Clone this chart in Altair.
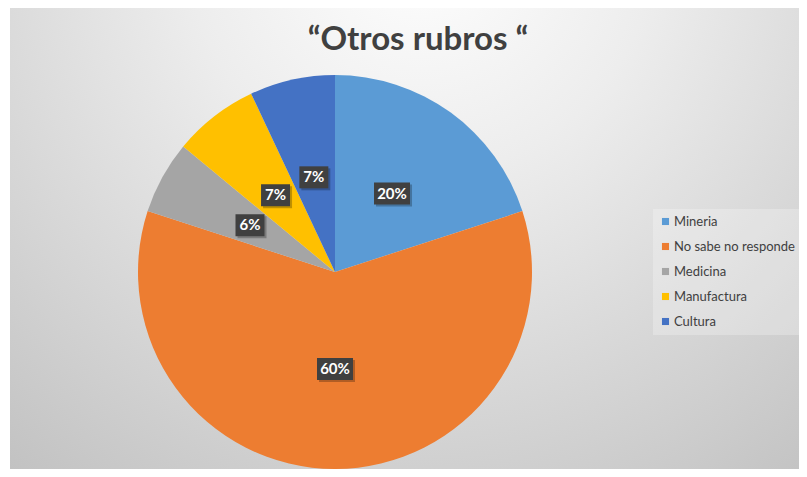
import altair as alt
import pandas as pd

title_text = "\u201cOtros rubros \u201c"
categories = ["Mineria", "No sabe no responde", "Medicina", "Manufactura", "Cultura"]
values = [20, 60, 6, 7, 7]
colors = ["#5B9BD5", "#ED7D31", "#A5A5A5", "#FFC000", "#4472C4"]

W, H = 791, 461
CX, CY = 327, 264
R = 197
LR = 97

df = pd.DataFrame({"category": categories, "value": values, "order": list(range(len(categories)))})

grad = alt.RadialGradient(
    gradient="radial",
    x1=0.52, y1=0.12, r1=0.0,
    x2=0.52, y2=0.12, r2=0.85,
    stops=[alt.GradientStop(offset=0, color="#ffffff"),
           alt.GradientStop(offset=0.35, color="#ededed"),
           alt.GradientStop(offset=1, color="#c2c2c2")],
)

bg = alt.Chart(pd.DataFrame({"k": [0]})).mark_rect(fill=grad).encode(
    x=alt.value(2), x2=alt.value(W), y=alt.value(0), y2=alt.value(H)
)

title = alt.Chart(pd.DataFrame({"t": [title_text]})).mark_text(
    font="Lato", fontSize=33, fontWeight="bold", color="#404040", baseline="middle", align="center"
).encode(text="t:N", x=alt.value(410), y=alt.value(32))

pie = alt.Chart(df).mark_arc(outerRadius=R).encode(
    theta=alt.Theta("value:Q", stack=True),
    color=alt.Color(
        "category:N",
        scale=alt.Scale(domain=categories, range=colors),
        sort=categories,
        legend=alt.Legend(
            title=None, orient="none", legendX=645, legendY=201,
            symbolType="square", symbolSize=50, symbolStrokeWidth=0,
            labelFont="Lato", labelFontSize=13, labelColor="#404040",
            rowPadding=11, padding=6, fillColor="rgba(255,255,255,0.25)",
            labelOffset=2,
        ),
    ),
    order=alt.Order("order:Q"),
    x=alt.value(CX), y=alt.value(CY),
)

base = alt.Chart(df).transform_window(
    cum="sum(value)", sort=[alt.SortField("order")]
).transform_joinaggregate(total="sum(value)").transform_calculate(
    mid="(datum.cum - datum.value / 2) / datum.total * 2 * PI",
    lx=f"{LR} * sin(datum.mid)",
    ly=f"{LR} * cos(datum.mid)",
    lbl="datum.value + '%'",
    hw="(length(datum.value + '%') * 7 + 15) / 2",
    x0="datum.lx - datum.hw",
    x1="datum.lx + datum.hw",
    y0="datum.ly - 11",
    y1="datum.ly + 11",
    sx0="datum.x0 + 2",
    sx1="datum.x1 + 2",
    sy0="datum.y0 - 2",
    sy1="datum.y1 - 2",
)

xs = alt.Scale(domain=[-CX, W - CX], range=[0, W])
ys = alt.Scale(domain=[-(H - CY), CY], range=[H, 0])

shadow = base.mark_rect(color="black", opacity=0.25).encode(
    x=alt.X("sx0:Q", scale=xs, axis=None),
    x2="sx1:Q",
    y=alt.Y("sy0:Q", scale=ys, axis=None),
    y2="sy1:Q",
)

boxes = base.mark_rect(color="#404040").encode(
    x=alt.X("x0:Q", scale=xs, axis=None),
    x2="x1:Q",
    y=alt.Y("y0:Q", scale=ys, axis=None),
    y2="y1:Q",
)

labels = base.mark_text(
    font="Lato", fontSize=15, fontWeight="bold", color="white", baseline="middle", align="center"
).encode(
    x=alt.X("lx:Q", scale=xs, axis=None),
    y=alt.Y("ly:Q", scale=ys, axis=None),
    text="lbl:N",
)

chart = alt.layer(bg, title, pie, shadow, boxes, labels).properties(
    width=W, height=H, autosize=alt.AutoSizeParams(type="none"), padding=0, background="white"
).configure_view(stroke=None)

chart.save("out.html", embed_options={"renderer": "svg", "actions": False})
